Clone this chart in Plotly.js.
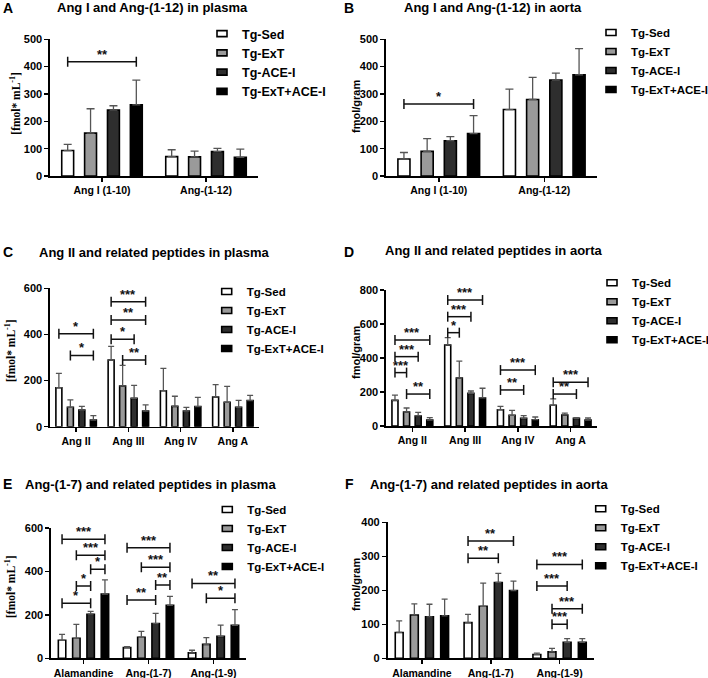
<!DOCTYPE html>
<html><head><meta charset="utf-8">
<script src="https://cdn.plot.ly/plotly-3.0.1.min.js"></script>
<style>html,body{margin:0;padding:0;background:#fff}#chart{width:708px;height:678px}</style>
</head><body><div id="chart"></div>
<script>
// ---------------- DATA ----------------
const series = ['Tg-Sed', 'Tg-ExT', 'Tg-ACE-I', 'Tg-ExT+ACE-I'];

// A: plasma Ang I / Ang-(1-12)   rows = series, cols = categories
const A_cats = ['Ang I (1-10)', 'Ang-(1-12)'];
const A_mean = [[93, 71], [157, 70], [241, 89], [260, 68]];
const A_err  = [[23, 25], [89, 21], [16, 12], [91, 30]];
const A_sig  = [[0, 0, 3, 418, '**']];   // [category, fromSeries, toSeries, value, label]

// B: aorta Ang I / Ang-(1-12)
const B_cats = ['Ang I (1-10)', 'Ang-(1-12)'];
const B_mean = [[62, 243], [90, 280], [129, 351], [155, 370]];
const B_err  = [[24, 75], [47, 81], [15, 25], [66, 96]];
const B_sig  = [[0, 0, 3, 263, '*']];

// C: plasma Ang II and related
const C_cats = ['Ang II', 'Ang III', 'Ang IV', 'Ang A'];
const C_mean = [[169, 289, 156, 129], [84, 176, 88, 106], [72, 123, 68, 84], [29, 68, 87, 113]];
const C_err  = [[62, 59, 97, 53], [32, 90, 44, 69], [16, 56, 16, 30], [19, 27, 40, 23]];
const C_sig  = [[0, 0, 3, 403, '*'], [0, 1, 3, 309, '*'], [1, 0, 3, 542, '***'], [1, 0, 3, 463, '**'],
                [1, 0, 2, 379, '*'], [1, 1, 3, 289, '**']];

// D: aorta Ang II and related
const D_cats = ['Ang II', 'Ang III', 'Ang IV', 'Ang A'];
const D_mean = [[151, 476, 96, 122], [82, 282, 63, 65], [59, 192, 45, 45], [35, 165, 37, 35]];
const D_err  = [[31, 44, 20, 37], [24, 100, 29, 11], [21, 14, 16, 4], [14, 57, 16, 12]];
const D_sig  = [[0, 0, 3, 506, '***'], [0, 0, 2, 408, '***'], [0, 0, 1, 314, '***'], [0, 1, 3, 188, '**'],
                [1, 0, 3, 741, '***'], [1, 0, 2, 643, '***'], [1, 0, 1, 549, '*'],
                [2, 0, 3, 329, '***'], [2, 0, 2, 212, '**'],
                [3, 0, 3, 257, '***'], [3, 0, 2, 188, '**']];

// E: plasma Ang-(1-7) and related
const E_cats = ['Alamandine', 'Ang-(1-7)', 'Ang-(1-9)'];
const E_mean = [[83, 49, 25], [92, 97, 64], [203, 160, 101], [296, 244, 152]];
const E_err  = [[27, 5, 12], [64, 27, 31], [13, 47, 52], [65, 41, 72]];
const E_sig  = [[0, 0, 3, 548, '***'], [0, 1, 3, 474, '***'], [0, 2, 3, 410, '*'], [0, 1, 2, 333, '*'],
                [0, 0, 2, 253, '*'], [1, 0, 3, 509, '***'], [1, 1, 3, 419, '***'], [1, 2, 3, 338, '**'],
                [1, 0, 2, 269, '**'], [2, 0, 3, 345, '**'], [2, 1, 3, 276, '*']];

// F: aorta Ang-(1-7) and related
const F_cats = ['Alamandine', 'Ang-(1-7)', 'Ang-(1-9)'];
const F_mean = [[76, 105, 11], [127, 153, 19], [122, 223, 47], [125, 199, 47]];
const F_err  = [[34, 24, 4], [33, 68, 10], [37, 27, 11], [49, 28, 11]];
const F_sig  = [[1, 0, 3, 345, '**'], [1, 0, 2, 294, '**'], [2, 0, 3, 276, '***'], [2, 0, 2, 213, '***'],
                [2, 1, 3, 146, '***'], [2, 1, 2, 100, '***']];

// ---------------- STYLE / LAYOUT ----------------
const W = 708, H = 678;
const FONT = 'Arial, "Liberation Sans", sans-serif';
const SERIF = '"Times New Roman", "Liberation Serif", serif';
const fills = ['#ffffff', '#9a9a9a', '#2e2e2e', '#000000'];
const PLASMA = '[fmol* mL<sup>-1</sup>]';
const AORTA = 'fmol/gram';

const panels = [
  {letter: 'A', title: 'Ang I and Ang-(1-12) in plasma', cats: A_cats, mean: A_mean, err: A_err, sig: A_sig,
   ymax: 500, dtick: 100, ytitle: PLASMA, serif: true, px: [50, 258], py: [39.3, 176],
   letterPos: [7.5, 8], titlePos: [152.5, 8], ytitlePos: [14.7, 103], legendPos: [242, 33], legendSize: 12.5, capw: 4},
  {letter: 'B', title: 'Ang I and Ang-(1-12) in aorta', cats: B_cats, mean: B_mean, err: B_err, sig: B_sig,
   ymax: 500, dtick: 100, ytitle: AORTA, serif: false, px: [386, 597], py: [39.3, 176],
   letterPos: [349, 8], titlePos: [493, 8], ytitlePos: [356, 107], legendPos: [631, 32], legendSize: 11.5, capw: 4},
  {letter: 'C', title: 'Ang II and related peptides in plasma', cats: C_cats, mean: C_mean, err: C_err, sig: C_sig,
   ymax: 600, dtick: 200, ytitle: PLASMA, serif: true, px: [50, 259], py: [288.3, 426.7],
   letterPos: [7.5, 252], titlePos: [154, 252], ytitlePos: [10, 351], legendPos: [246.7, 291], legendSize: 11.5, capw: 3},
  {letter: 'D', title: 'Ang II and related peptides in aorta', cats: D_cats, mean: D_mean, err: D_err, sig: D_sig,
   ymax: 800, dtick: 200, ytitle: AORTA, serif: false, px: [386, 597], py: [290, 426],
   letterPos: [349, 252], titlePos: [493, 250], ytitlePos: [356, 353], legendPos: [632, 282.3], legendSize: 11.5, capw: 3},
  {letter: 'E', title: 'Ang-(1-7) and related peptides in plasma', cats: E_cats, mean: E_mean, err: E_err, sig: E_sig,
   ymax: 600, dtick: 200, ytitle: PLASMA, serif: true, px: [51, 246], py: [528, 658.3],
   letterPos: [7, 484], titlePos: [150, 484], ytitlePos: [10, 587], legendPos: [247.3, 509], legendSize: 11.5, capw: 3},
  {letter: 'F', title: 'Ang-(1-7) and related peptides in aorta', cats: F_cats, mean: F_mean, err: F_err, sig: F_sig,
   ymax: 400, dtick: 100, ytitle: AORTA, serif: false, px: [387.5, 594], py: [522.3, 658.3],
   letterPos: [349, 484], titlePos: [489, 484], ytitlePos: [356, 585], legendPos: [620.7, 508.3], legendSize: 11.5, capw: 3}
];

const BARGAP = 0.12, GROUPGAP = 0.48;
const data = [];
const shapes = [];
const annotations = [];
const layout = {
  width: W, height: H, margin: {l: 0, r: 0, t: 0, b: 0, pad: 0, autoexpand: false},
  paper_bgcolor: '#ffffff', plot_bgcolor: 'rgba(0,0,0,0)',
  barmode: 'group', bargap: BARGAP, bargroupgap: GROUPGAP,
  font: {family: FONT, color: '#000'},
  showlegend: true, hovermode: false
};

panels.forEach((p, k) => {
  const sfx = k === 0 ? '' : String(k + 1);
  const xr = 'x' + sfx, yr = 'y' + sfx;
  const lg = 'legend' + sfx;
  series.forEach((s, i) => {
    data.push({
      type: 'bar', name: s, x: p.cats, y: p.mean[i], xaxis: xr, yaxis: yr, legend: lg,
      legendgroup: lg + '_' + i,
      marker: {color: fills[i], line: {color: '#000', width: 1.6}},
      error_y: {type: 'data', symmetric: false, array: p.err[i], arrayminus: p.err[i].map(() => 0),
                color: '#555', thickness: 1.3, width: p.capw}
    });
  });
  layout['xaxis' + sfx] = {
    domain: [p.px[0] / W, p.px[1] / W], anchor: yr, type: 'category',
    range: [-0.5, p.cats.length - 0.5], showline: true, linecolor: '#000', linewidth: 1.6,
    ticks: 'outside', ticklen: 4, tickwidth: 1.5, tickcolor: '#000',
    tickfont: {size: 10.5, weight: 'bold', family: FONT, color: '#000'},
    showgrid: false, zeroline: false, fixedrange: true
  };
  layout['yaxis' + sfx] = {
    domain: [1 - p.py[1] / H, 1 - p.py[0] / H], anchor: xr,
    range: [0, p.ymax], dtick: p.dtick, showline: true, linecolor: '#000', linewidth: 1.6,
    ticks: 'outside', ticklen: 4, tickwidth: 1.5, tickcolor: '#000',
    tickfont: {size: 11, weight: 'bold', family: FONT, color: '#000'},
    showgrid: false, zeroline: false, fixedrange: true
  };
  layout[lg] = {
    x: (p.legendPos[0] - 40) / W, xanchor: 'left',
    y: 1 - (p.legendPos[1] - 14) / H, yanchor: 'top',
    font: {size: p.legendSize, weight: 'bold', family: FONT, color: '#000'},
    bgcolor: 'rgba(0,0,0,0)', borderwidth: 0, tracegroupgap: 0
  };

  // significance brackets
  const slot = (1 - BARGAP) / 4;
  p.sig.forEach(([g, a, b, v, lab]) => {
    const x0 = g + (a - 1.5) * slot, x1 = g + (b - 1.5) * slot;
    const ln = {color: '#111', width: 1.5};
    shapes.push({type: 'line', xref: xr, yref: yr, x0: x0, x1: x1, y0: v, y1: v, line: ln});
    [x0, x1].forEach(xx => shapes.push({type: 'line', xref: xr, yref: yr, ysizemode: 'pixel', yanchor: v,
      x0: xx, x1: xx, y0: -5, y1: 5, line: ln}));
    annotations.push({xref: xr, yref: yr, x: (x0 + x1) / 2, y: v, text: lab, showarrow: false,
      yanchor: 'bottom', yshift: -2, font: {size: 13, weight: 'bold', family: FONT, color: '#111'}});
  });

  // panel letter, title, y title
  annotations.push({xref: 'paper', yref: 'paper', x: p.letterPos[0] / W, y: 1 - p.letterPos[1] / H,
    xanchor: 'center', yanchor: 'middle', showarrow: false, text: p.letter,
    font: {size: 14, weight: 'bold', family: FONT, color: '#000'}});
  annotations.push({xref: 'paper', yref: 'paper', x: p.titlePos[0] / W, y: 1 - p.titlePos[1] / H,
    xanchor: 'center', yanchor: 'middle', showarrow: false, text: p.title,
    font: {size: 13, weight: 'bold', family: FONT, color: '#000'}});
  annotations.push({xref: 'paper', yref: 'paper', x: p.ytitlePos[0] / W, y: 1 - p.ytitlePos[1] / H,
    xanchor: 'center', yanchor: 'middle', showarrow: false, text: p.ytitle, textangle: -90,
    font: {size: p.serif ? 11.5 : 11, weight: 'bold', family: p.serif ? SERIF : FONT, color: '#000'}});
});
layout.shapes = shapes;
layout.annotations = annotations;

Plotly.newPlot('chart', data, layout, {staticPlot: true, displayModeBar: false}).then(() => {
  document.querySelectorAll('.legendpoints path').forEach(el => el.setAttribute('d', 'M5,3H-5V-3H5Z'));
});
</script>
</body></html>
